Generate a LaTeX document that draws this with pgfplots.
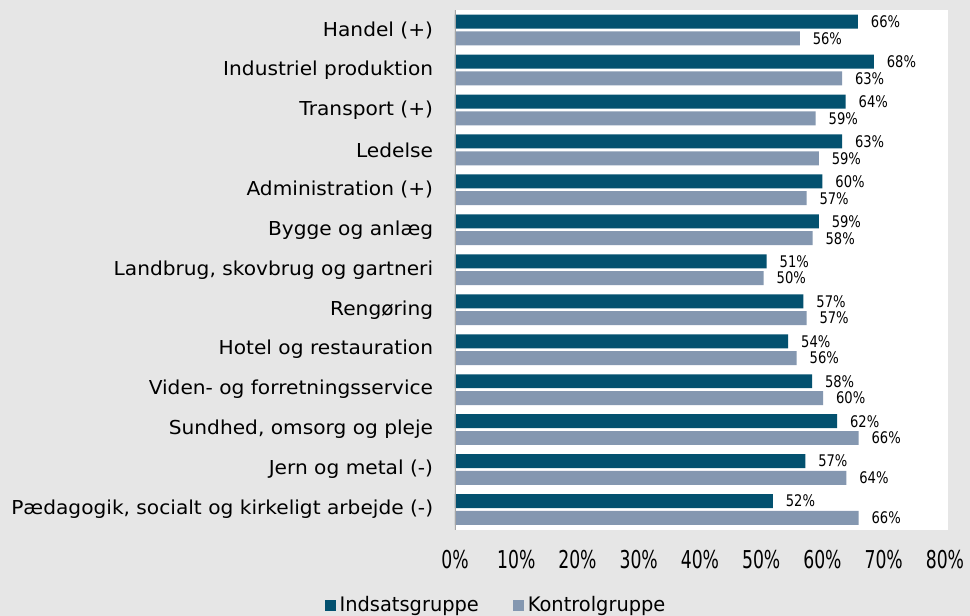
\documentclass[border=0pt]{standalone}
\usepackage{fontspec}
\setmainfont{DejaVu Sans}
\newfontfamily\catfont{DejaVu Sans}[FakeStretch=1.05]
\newfontfamily\tickfont{DejaVu Sans}[FakeStretch=0.7]
\newfontfamily\valfont{DejaVu Sans}[FakeStretch=0.82]
\newfontfamily\legfont{DejaVu Sans}[FakeStretch=0.97]
\usepackage{pgfplots}
\pgfplotsset{compat=1.18}
\definecolor{indsats}{HTML}{03516F}
\definecolor{kontrol}{HTML}{8497B0}
\definecolor{bggray}{HTML}{E6E6E6}
\definecolor{spine}{HTML}{A6A6A6}

\begin{document}
\begin{tikzpicture}
\path[use as bounding box, fill=bggray] (-227.5pt,-43.25pt) rectangle (257.5pt,264.75pt);
\begin{axis}[
    at={(0pt,0pt)}, anchor=south west,
    scale only axis,
    width=246.5pt, height=259.75pt,
    xbar, bar width=0.35,
    xmin=0, xmax=80.5,
    ymin=-0.5, ymax=12.5, y dir=reverse,
    axis line style={draw=none},
    axis background/.style={fill=white},
    major tick length=0pt,
    xtick={0,10,...,80},
    xticklabel={\tickfont\pgfmathprintnumber[assume math mode=true]{\tick}\%},
    x tick label style={font=\fontsize{12.3}{14}\tickfont, anchor=center, yshift=-15.25pt},
    ytick={0,...,12},
    yticklabels={
        {Handel (+)},
        {Industriel produktion},
        {Transport (+)},
        {Ledelse},
        {Administration (+)},
        {Bygge og anlæg\ },
        {Landbrug, skovbrug og gartneri},
        {Rengøring},
        {Hotel og restauration},
        {Viden- og forretningsservice},
        {Sundhed, omsorg og pleje},
        {Jern og metal (-)},
        {Pædagogik, socialt og kirkeligt arbejde (-)}
    },
    y tick label style={font=\fontsize{9.6}{11.5}\catfont, anchor=east, inner sep=0pt, xshift=-10.75pt},
    point meta=x,
    nodes near coords={\pgfmathprintnumber[fixed,precision=0,assume math mode=true]{\pgfplotspointmeta}\%},
    every node near coord/.append style={font=\fontsize{8}{9}\valfont, anchor=west, inner sep=0pt, xshift=6.3pt},
    legend columns=2,
    legend cell align=left,
    legend style={draw=none, fill=none, at={(0.0852,-0.1463)}, anchor=center,
        font=\fontsize{10}{12}\legfont,
        /tikz/every even column/.append style={column sep=15pt}},
    legend image code/.code={\fill[#1] (0pt,-2.75pt) rectangle (5.5pt,2.75pt);},
]
% Indsatsgruppe
\addplot[fill=indsats, draw=none, bar shift=-0.21] coordinates {
    (65.8,0) (68.4,1) (63.8,2) (63.2,3) (60.0,4) (59.4,5) (50.9,6)
    (56.9,7) (54.4,8) (58.3,9) (62.4,10) (57.2,11) (51.9,12)
};
% Kontrolgruppe
\addplot[fill=kontrol, draw=none, bar shift=0.21] coordinates {
    (56.3,0) (63.2,1) (58.9,2) (59.4,3) (57.4,4) (58.4,5) (50.4,6)
    (57.4,7) (55.8,8) (60.1,9) (65.9,10) (63.9,11) (65.9,12)
};
\legend{Indsatsgruppe, Kontrolgruppe}
\draw[spine, line width=0.6pt] (axis cs:0,-0.5) -- (axis cs:0,12.5);
\end{axis}
\end{tikzpicture}
\end{document}
